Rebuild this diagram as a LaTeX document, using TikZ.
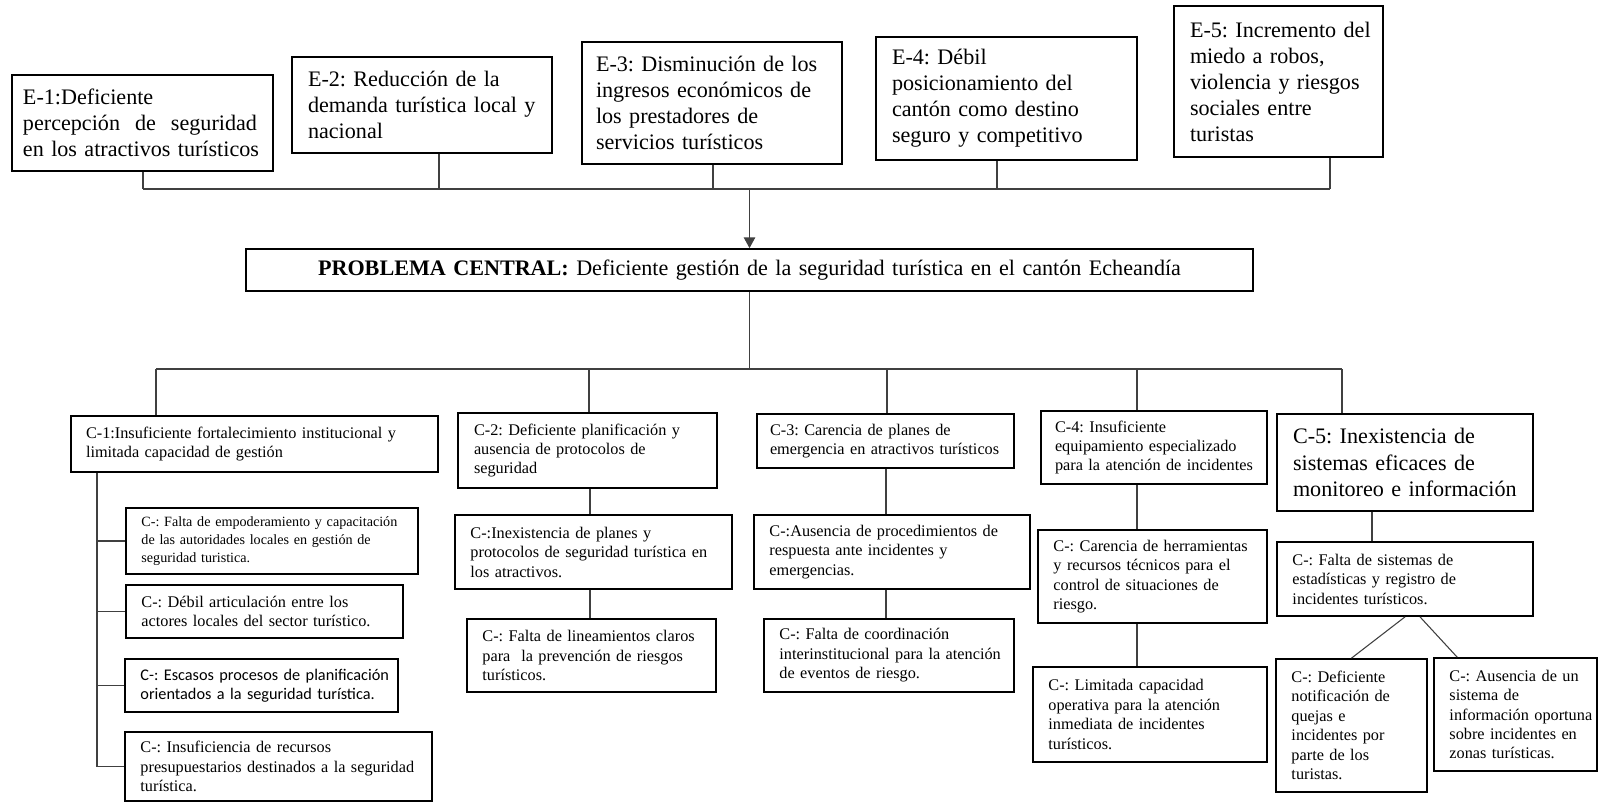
\documentclass[tikz,border=0pt]{standalone}
\usepackage{fontspec}
\setmainfont{Liberation Serif}
\newfontfamily\calfont{Carlito}
\usetikzlibrary{arrows.meta}
\frenchspacing
\newcommand\mybox[7]{%
  \pgfmathsetmacro\bxw{(#4-#2)*0.75}%
  \pgfmathsetmacro\bxh{(#5-#3)*0.75}%
  \pgfmathsetmacro\bxt{(#4-#2)*0.75-6}%
  \node[box,#6,minimum width=\bxw pt,minimum height=\bxh pt,text width=\bxt pt] (#1) at ({(#2+#4)/2},{(#3+#5)/2}) {#7};%
}
\tikzset{
  lpad/.style={execute at begin node={\frenchspacing\leftskip=#1\relax}},
  box/.style={draw=black, line width=1.3pt, inner xsep=3pt, inner ysep=0pt, align=left,
    font=\fontsize{12.2}{14.6}\selectfont, lpad=8.6pt},
  efont/.style={font=\fontsize{16.6}{19.5}\selectfont},
  conn/.style={draw=black!75, line width=0.8pt},
  arr/.style={conn, -{Triangle[length=8pt,width=8.5pt]}},
}
\begin{document}
\begin{tikzpicture}[x=0.75pt,y=-0.75pt]
\fill[white] (0,0) rectangle (1600,803);
\useasboundingbox (0,0) rectangle (1600,803);
% effects
\mybox{e1}{12}{75}{273}{171}{efont,lpad=5.25pt}{E-1:Deficiente\\\leavevmode\hbox to 175.5pt{percepción\hfill de\hfill seguridad}\\en los atractivos turísticos}
\mybox{e2}{292}{57}{552}{153}{efont,lpad=9pt}{E-2: Reducción de la\\demanda~turística~local~y\\nacional}
\mybox{e3}{582}{42}{842}{164}{efont,lpad=7.5pt}{E-3: Disminución de los\\ingresos económicos de\\los prestadores de\\servicios turísticos}
\mybox{e4}{876}{37}{1137}{160}{efont,lpad=9pt}{E-4: Débil\\posicionamiento del\\cantón como destino\\seguro y competitivo}
\mybox{e5}{1174}{6}{1383}{157}{efont,lpad=9pt}{E-5:~Incremento~del\\miedo a robos,\\violencia y riesgos\\sociales entre\\turistas}
% central problem
\mybox{prob}{246}{249}{1253}{291}{efont,lpad=0pt}{\leavevmode\hbox to \linewidth{\hss\textbf{PROBLEMA CENTRAL:} Deficiente gestión de la seguridad turística en el cantón Echeandía\hss}}
% causes
\mybox{c1}{71}{416}{438}{472}{lpad=8.25pt}{C-1:Insuficiente fortalecimiento institucional y\\limitada capacidad de gestión}
\mybox{c2}{458}{413}{717}{488}{lpad=9pt}{C-2: Deficiente planificación y\\ausencia de protocolos de\\seguridad}
\mybox{c3}{757}{414}{1014}{468}{lpad=6.75pt}{C-3: Carencia de planes de\\emergencia en atractivos turísticos}
\mybox{c4}{1041}{411}{1267}{484}{lpad=7.5pt}{C-4: Insuficiente\\equipamiento especializado\\para la atención de incidentes}
\mybox{c5}{1277}{414}{1533}{511}{font=\fontsize{16.6}{20}\selectfont,lpad=9pt}{C-5: Inexistencia de\\sistemas eficaces de\\monitoreo e información}
% sub-causes
\mybox{s11}{126}{508}{418}{574}{font=\fontsize{10.6}{13.3}\selectfont}{C-: Falta de empoderamiento y capacitación\\de las autoridades locales en gestión de\\seguridad turistica.}
\mybox{s12}{126}{585}{403}{638}{}{C-: Débil articulación entre los\\actores locales del sector turístico.}
\mybox{s13}{125}{659}{398}{712}{font=\calfont\fontsize{12.2}{14.6}\selectfont}{C-: Escasos procesos de planificación\\orientados a la seguridad turística.}
\mybox{s14}{125}{732}{432}{801}{}{C-: Insuficiencia de recursos\\presupuestarios destinados a la seguridad\\turística.}
\mybox{s21}{455}{515}{732}{589}{}{C-:Inexistencia de planes y\\protocolos de seguridad turística en\\los atractivos.}
\mybox{s22}{467}{619}{716}{692}{}{C-: Falta de lineamientos claros\\para\ \ la prevención de riesgos\\turísticos.}
\mybox{s31}{754}{515}{1030}{589}{}{C-:Ausencia de procedimientos de\\respuesta ante incidentes y\\emergencias.}
\mybox{s32}{764}{619}{1014}{692}{}{C-: Falta de coordinación\\interinstitucional para la atención\\de eventos de riesgo.}
\mybox{s41}{1038}{530}{1267}{623}{}{C-: Carencia de herramientas\\y recursos técnicos para el\\control de situaciones de\\riesgo.}
\mybox{s42}{1033}{667}{1267}{762}{}{C-: Limitada capacidad\\operativa para la atención\\inmediata de incidentes\\turísticos.}
\mybox{s51}{1277}{542}{1533}{616}{}{C-: Falta de sistemas de\\estadísticas y registro de\\incidentes turísticos.}
\mybox{s52}{1276}{659}{1427}{792}{}{C-: Deficiente\\notificación de\\quejas e\\incidentes por\\parte de los\\turistas.}
\mybox{s53}{1434}{658}{1597}{771}{}{C-: Ausencia de un\\sistema de\\información~oportuna\\sobre incidentes en\\zonas turísticas.}
% top connectors
\coordinate (tb) at (0,189);
\coordinate (j1) at (143,189);
\coordinate (j2) at (439,189);
\coordinate (j3) at (713,189);
\coordinate (j4) at (997,189);
\coordinate (j5) at (1330,189);
\draw[conn] (j1 |- e1.south) -- (j1);
\draw[conn] (j2 |- e2.south) -- (j2);
\draw[conn] (j3 |- e3.south) -- (j3);
\draw[conn] (j4 |- e4.south) -- (j4);
\draw[conn] (j5 |- e5.south) -- (j5);
\draw[conn] (j1) -- (j5);
\draw[arr] (prob.north |- tb) -- (prob.north);
% bottom connectors
\coordinate (bb) at (0,369);
\coordinate (k1) at (156,369);
\coordinate (k2) at (589,369);
\coordinate (k3) at (887,369);
\coordinate (k4) at (1137,369);
\coordinate (k5) at (1342,369);
\draw[conn] (prob.south) -- (prob.south |- bb);
\draw[conn] (k1) -- (k5);
\draw[conn] (k1) -- (k1 |- c1.north);
\draw[conn] (k2) -- (k2 |- c2.north);
\draw[conn] (k3) -- (k3 |- c3.north);
\draw[conn] (k4) -- (k4 |- c4.north);
\draw[conn] (k5) -- (k5 |- c5.north);
% C-1 tree
\coordinate (v1) at (97,0);
\draw[conn] (v1 |- c1.south) -- (v1 |- s14.west) -- (s14.west);
\draw[conn] (v1 |- s11.west) -- (s11.west);
\draw[conn] (v1 |- s12.west) -- (s12.west);
\draw[conn] (v1 |- s13.west) -- (s13.west);
% C-2 chain
\coordinate (v2) at (590,0);
\draw[conn] (v2 |- c2.south) -- (v2 |- s21.north);
\draw[conn] (v2 |- s21.south) -- (v2 |- s22.north);
% C-3 chain
\coordinate (v3) at (886,0);
\draw[conn] (v3 |- c3.south) -- (v3 |- s31.north);
\draw[conn] (v3 |- s31.south) -- (v3 |- s32.north);
% C-4 chain
\coordinate (v4) at (1137,0);
\draw[conn] (v4 |- c4.south) -- (v4 |- s41.north);
\draw[conn] (v4 |- s41.south) -- (v4 |- s42.north);
% C-5 tree
\coordinate (v5) at (1372,0);
\draw[conn] (v5 |- c5.south) -- (v5 |- s51.north);
\draw[conn] (s51.south) -- (s52.north);
\draw[conn] ([xshift=11.25pt]s51.south) -- ([xshift=18pt]s53.north west);
\end{tikzpicture}
\end{document}
